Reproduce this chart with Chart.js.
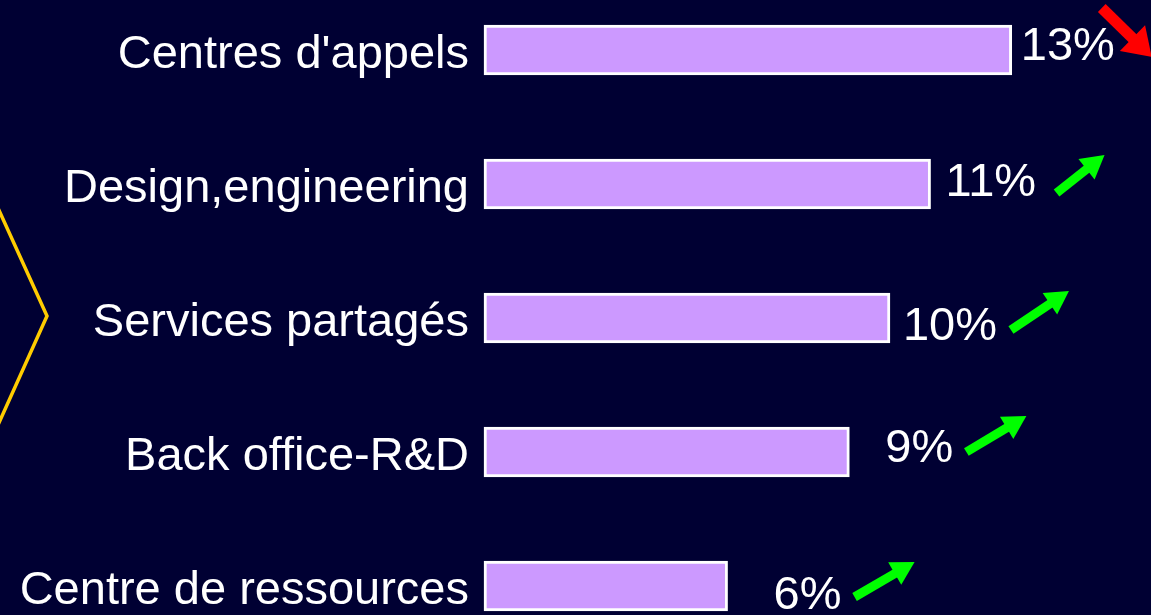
<!DOCTYPE html>
<html>
<head>
<meta charset="utf-8">
<script src="https://cdn.jsdelivr.net/npm/chart.js@4/dist/chart.umd.min.js"></script>
<style>
  html, body { margin: 0; padding: 0; background: #000033; overflow: hidden; }
  #wrap { width: 1151px; height: 615px; position: relative; }
</style>
</head>
<body>
<div id="wrap"><canvas id="secteursChart"></canvas></div>
<script>
// data
const categories = ["Centres d'appels", "Design,engineering", "Services partagés", "Back office-R&D", "Centre de ressources"];
const shares = [13, 11, 10, 9, 6];
const valueLabels = ["13%", "11%", "10%", "9%", "6%"];
const trends = ["down", "up", "up", "up", "up"];

document.addEventListener("DOMContentLoaded", function () {
    const ctx = document.getElementById('secteursChart');
    const fontFamily = "'Liberation Sans', Arial, sans-serif";

    // placement tweaks for the hand-placed labels and arrows of the slide
    const labelDx = [9, 15, 13, 36, 46];
    const labelDy = [-3, -1, 9, -3, 10];
    const arrowDx = [90, 126, 121, 117, 127];
    const arrowDy = [-42, 9, 12, 0, 11];
    const arrowVec = [[50, 49], [48, -38], [58, -39], [60, -36], [60, -35]];

    function drawArrow(c, x0, y0, vx, vy, color, shaft, headLen, headHalf) {
        const len = Math.sqrt(vx * vx + vy * vy);
        const ux = vx / len, uy = vy / len;
        const bx = x0 + ux * (len - headLen), by = y0 + uy * (len - headLen);
        c.save();
        c.strokeStyle = color;
        c.fillStyle = color;
        c.lineWidth = shaft;
        c.lineCap = 'butt';
        c.beginPath();
        c.moveTo(x0, y0);
        c.lineTo(bx + ux * 2, by + uy * 2);
        c.stroke();
        c.beginPath();
        c.moveTo(x0 + vx, y0 + vy);
        c.lineTo(bx - uy * headHalf, by + ux * headHalf);
        c.lineTo(bx + uy * headHalf, by - ux * headHalf);
        c.closePath();
        c.fill();
        c.restore();
    }

    const slideDeco = {
        id: 'slideDeco',
        beforeDraw(chart) {
            const c = chart.ctx;
            c.save();
            c.fillStyle = '#000033';
            c.fillRect(0, 0, chart.width, chart.height);
            // yellow chevron on the left edge
            c.strokeStyle = '#FFCC00';
            c.lineWidth = 3.5;
            c.beginPath();
            c.moveTo(-2, 208);
            c.lineTo(47, 316);
            c.lineTo(-2, 425);
            c.stroke();
            c.restore();
        },
        afterDatasetsDraw(chart) {
            const c = chart.ctx;
            const meta = chart.getDatasetMeta(0);
            c.save();
            c.fillStyle = '#FFFFFF';
            c.font = '47px ' + fontFamily;
            c.textAlign = 'left';
            c.textBaseline = 'middle';
            meta.data.forEach(function (bar, i) {
                c.fillText(valueLabels[i], bar.x + labelDx[i], bar.y + labelDy[i]);
                const x0 = bar.x + arrowDx[i];
                const y0 = bar.y + arrowDy[i];
                if (trends[i] === 'down') {
                    drawArrow(c, x0, y0, arrowVec[i][0], arrowVec[i][1], '#FF0000', 11, 27, 18);
                } else {
                    drawArrow(c, x0, y0, arrowVec[i][0], arrowVec[i][1], '#00FF00', 9, 23, 13);
                }
            });
            c.restore();
        }
    };

    const data = {
        labels: categories,
        datasets: [{
            data: shares,
            backgroundColor: '#CC99FF',
            borderColor: '#FFFFFF',
            borderWidth: 3,
            borderSkipped: false,
            barThickness: 50,
            clip: false
        }]
    };

    const config = {
        type: 'bar',
        data: data,
        options: {
            indexAxis: 'y',
            responsive: true,
            maintainAspectRatio: false,
            animation: false,
            layout: { padding: { top: 50, bottom: 29, left: 0, right: 0 } },
            plugins: {
                legend: { display: false },
                tooltip: { enabled: false }
            },
            scales: {
                x: {
                    display: false,
                    min: 0,
                    max: 16.43
                },
                y: {
                    offset: false,
                    grid: { display: false, drawTicks: false },
                    border: { display: false },
                    ticks: {
                        color: '#FFFFFF',
                        padding: 15,
                        labelOffset: 5,
                        font: { size: 47, family: fontFamily }
                    },
                    afterFit: function (axis) {
                        axis.width = 484;
                        axis.paddingTop = 0;
                        axis.paddingBottom = 0;
                    }
                }
            }
        },
        plugins: [slideDeco]
    };

    new Chart(ctx, config);
});
</script>
</body>
</html>
